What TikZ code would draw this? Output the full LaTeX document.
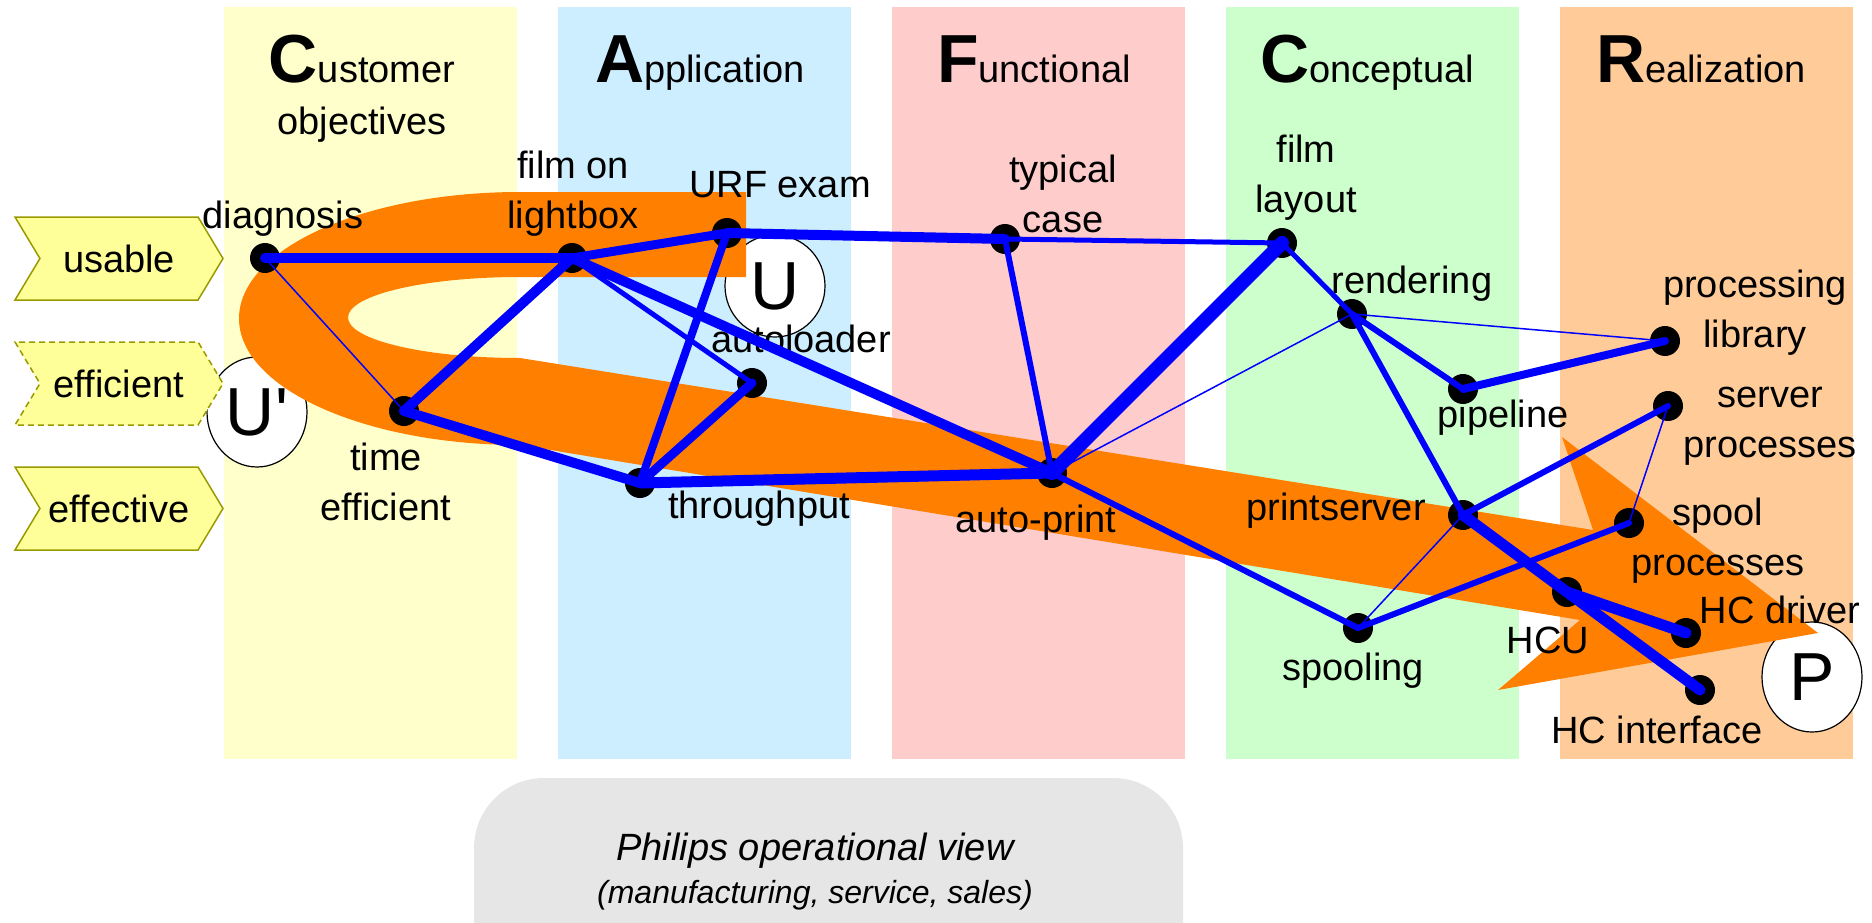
\documentclass[tikz,border=0pt]{standalone}
\usepackage{fontspec}
\setmainfont{Liberation Sans}
\usetikzlibrary{shapes.geometric,shapes.symbols}

\definecolor{custcol}{HTML}{FFFFCC}
\definecolor{appcol}{HTML}{CCEEFF}
\definecolor{funccol}{HTML}{FFCCCC}
\definecolor{conccol}{HTML}{CCFFCC}
\definecolor{realcol}{HTML}{FFCC99}
\definecolor{flow}{HTML}{FF8000}
\definecolor{chevfill}{HTML}{FFFF99}
\definecolor{chevline}{HTML}{999900}
\definecolor{opsgray}{HTML}{E6E6E6}

\newcommand{\bigini}[1]{{\fontsize{68}{68}\selectfont\bfseries #1}}

\tikzset{
  vertex/.style={circle,fill=black,minimum size=30,inner sep=0},
  lbl/.style={font=\fontsize{38}{49.5}\selectfont,align=center,inner sep=0,anchor=base},
  edge/.style={draw=blue,line cap=round},
  chev/.style={signal,signal from=west,signal to=east,signal pointer angle=118,fill=chevfill,draw=chevline,line width=1.5,minimum width=208,minimum height=83,inner sep=0,font=\fontsize{38}{40}\selectfont},
  letter/.style={ellipse,draw=black,fill=white,line width=1.2,inner sep=0,font=\fontsize{68}{68}\selectfont},
}

\begin{document}
\begin{tikzpicture}[x=1pt,y=-1pt]
      \path[use as bounding box] (0,0) rectangle (1872,923);
      \clip (0,0) rectangle (1872,923);

      % view columns
      \foreach \i/\c in {0/custcol,1/appcol,2/funccol,3/conccol,4/realcol}
        \fill[\c] (224+334*\i,7) rectangle ++(293,752);
      \fill[opsgray,rounded corners=70] (474,778) rectangle (1183,1010);
      \node[lbl,font=\itshape\fontsize{38}{43}\selectfont] (opsview) at (815,903) {Philips operational view\\{\fontsize{32}{43}\selectfont(manufacturing, service, sales)}};

      \node[lbl,font=\fontsize{38}{52}\selectfont] (custtitle) at (362,135) {\bigini{C}ustomer\\objectives};
      \node[lbl] (apptitle) at (700,83) {\bigini{A}pplication};
      \node[lbl] (functitle) at (1034,83) {\bigini{F}unctional};
      \node[lbl] (conctitle) at (1367,83) {\bigini{C}onceptual};
      \node[lbl] (realtitle) at (1701,83) {\bigini{R}ealization};

      \node[letter,minimum width=100,minimum height=102] (uloop) at (775,286) {U};
      \node[letter,minimum width=100,minimum height=110] (uprime) at (257,412) {U\textquotesingle};
      \node[letter,minimum width=100,minimum height=110] (ploop) at (1812,677) {P};

      % the orange loop arrow
      \fill[flow] (746,192) -- (520,192) arc[start angle=90,end angle=270,x radius=281pt,y radius=126.5pt]
        -- (1580,620) -- (1498,690) -- (1818,633) -- (1562,437) -- (1593,530) -- (520,358)
        arc[start angle=270,end angle=90,x radius=172pt,y radius=40.5pt] -- (746,277) -- cycle;

      \node[chev] (usable) at (119,258.5) {usable};
      \node[chev,dash pattern=on 6pt off 4pt] (efficient) at (119,383.5) {efficient};
      \node[chev] (effective) at (119,508.5) {effective};

      \node[vertex] (diag) at (265,258) {};
      \node[vertex] (timeeff) at (404,411) {};
      \node[vertex] (lightbox) at (572,258) {};
      \node[vertex] (urf) at (727,233) {};
      \node[vertex] (autoload) at (752,383) {};
      \node[vertex] (thruput) at (640,483) {};
      \node[vertex] (typical) at (1005,239) {};
      \node[vertex] (autoprint) at (1052,473) {};
      \node[vertex] (filmlay) at (1282,243) {};
      \node[vertex] (render) at (1352,314) {};
      \node[vertex] (pipeline) at (1463,389) {};
      \node[vertex] (printsrv) at (1463,515) {};
      \node[vertex] (spooling) at (1358,628) {};
      \node[vertex] (hcu) at (1567,592) {};
      \node[vertex] (proclib) at (1665,341) {};
      \node[vertex] (servproc) at (1668,406) {};
      \node[vertex] (spoolproc) at (1629,523) {};
      \node[vertex] (hcdrv) at (1686,633) {};
      \node[vertex] (hcif) at (1700,690) {};

      \node[lbl] (diag-l) at (283,228) {diagnosis};
      \node[lbl] (timeeff-l) at (386,520) {time\\efficient};
      \node[lbl] (lightbox-l) at (573,228) {film on\\lightbox};
      \node[lbl] (urf-l) at (780,197) {URF exam};
      \node[lbl] (autoload-l) at (801,352) {autoloader};
      \node[lbl] (thruput-l) at (759,518) {throughput};
      \node[lbl] (typical-l) at (1063,232) {typical\\case};
      \node[lbl] (autoprint-l) at (1036,532) {auto-print};
      \node[lbl] (filmlay-l) at (1306,212) {film\\layout};
      \node[lbl] (render-l) at (1412,293) {rendering};
      \node[lbl] (pipeline-l) at (1503,427) {pipeline};
      \node[lbl] (printsrv-l) at (1336,520) {printserver};
      \node[lbl] (spooling-l) at (1353,680) {spooling};
      \node[lbl] (hcu-l) at (1548,653) {HCU};
      \node[lbl] (proclib-l) at (1755,347) {processing\\library};
      \node[lbl] (servproc-l) at (1770,457) {server\\processes};
      \node[lbl] (spoolproc-l) at (1718,575) {spool\\processes};
      \node[lbl] (hcdrv-l) at (1780,623) {HC driver};
      \node[lbl] (hcif-l) at (1657,743) {HC interface};

      \draw[edge,line width=10] (diag.center) -- (lightbox.center);
      \draw[edge,line width=1.5] (diag.center) -- (timeeff.center);
      \draw[edge,line width=10] (timeeff.center) -- (lightbox.center);
      \draw[edge,line width=10] (timeeff.center) -- (thruput.center);
      \draw[edge,line width=9] (lightbox.center) -- (urf.center);
      \draw[edge,line width=5] (lightbox.center) -- (autoload.center);
      \draw[edge,line width=10] (lightbox.center) -- (autoprint.center);
      \draw[edge,line width=8] (urf.center) -- (thruput.center);
      \draw[edge,line width=10] (urf.center) -- (typical.center);
      \draw[edge,line width=9] (autoload.center) -- (thruput.center);
      \draw[edge,line width=11] (thruput.center) -- (autoprint.center);
      \draw[edge,line width=5] (typical.center) -- (filmlay.center);
      \draw[edge,line width=6] (typical.center) -- (autoprint.center);
      \draw[edge,line width=14] (autoprint.center) -- (filmlay.center);
      \draw[edge,line width=1.5] (autoprint.center) -- (render.center);
      \draw[edge,line width=6] (autoprint.center) -- (spooling.center);
      \draw[edge,line width=5] (filmlay.center) -- (render.center);
      \draw[edge,line width=1.5] (render.center) -- (proclib.center);
      \draw[edge,line width=6] (render.center) -- (pipeline.center);
      \draw[edge,line width=6] (render.center) -- (printsrv.center);
      \draw[edge,line width=8] (pipeline.center) -- (proclib.center);
      \draw[edge,line width=6] (printsrv.center) -- (servproc.center);
      \draw[edge,line width=1.5] (printsrv.center) -- (spooling.center);
      \draw[edge,line width=11] (printsrv.center) -- (hcu.center);
      \draw[edge,line width=11] (hcu.center) -- (hcif.center);
      \draw[edge,line width=11] (hcu.center) -- (hcdrv.center);
      \draw[edge,line width=6] (spooling.center) -- (spoolproc.center);
      \draw[edge,line width=1.5] (servproc.center) -- (spoolproc.center);
\end{tikzpicture}
\end{document}
